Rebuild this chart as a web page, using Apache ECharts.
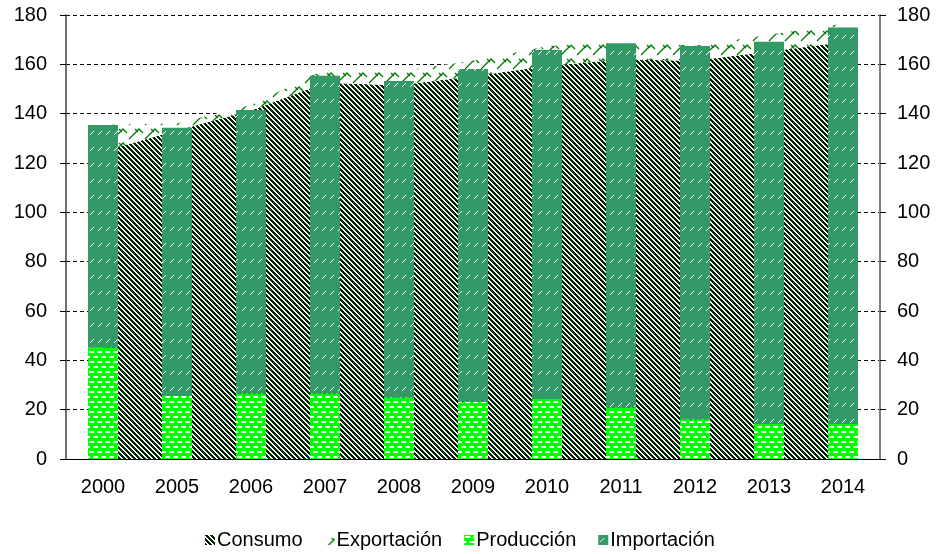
<!DOCTYPE html>
<html>
<head>
<meta charset="utf-8">
<script src="https://cdn.jsdelivr.net/npm/echarts@6/dist/echarts.min.js"></script>
<style>
html,body{margin:0;padding:0;background:#fff;}
#c{width:940px;height:554px;}
</style>
</head>
<body>
<div id="c"></div>
<script>
var categories = ['2000','2005','2006','2007','2008','2009','2010','2011','2012','2013','2014'];
var consumo     = [124.8, 133.2, 141.3, 152.5, 151.5, 155.2, 159.3, 162.0, 161.5, 165.2, 169.0];
var exportacion = [10.7, 2.8, 2.2, 5.5, 5.7, 6.3, 8.0, 7.5, 6.0, 6.8, 7.5];
var produccion  = [45.1, 25.5, 26.6, 26.6, 24.9, 23.2, 24.3, 20.8, 16.1, 14.2, 14.2];
var importacion = [90.3, 108.8, 114.9, 128.8, 128.3, 134.9, 141.5, 147.7, 151.3, 155.0, 160.7];
var yTicks = [0, 20, 40, 60, 80, 100, 120, 140, 160, 180];

function tile(w, h, draw) {
  var c = document.createElement('canvas');
  c.width = w; c.height = h;
  var ctx = c.getContext('2d');
  draw(ctx, w, h);
  return {image: c, repeat: 'repeat'};
}
// Consumo: dark wide downward diagonal stripes
var patConsumo = tile(10, 10, function (ctx, w, h) {
  ctx.fillStyle = '#ffffff'; ctx.fillRect(0, 0, w, h);
  ctx.fillStyle = '#002600';
  for (var y = 0; y < h; y++) for (var x = 0; x < w; x++) {
    var d = ((x - y) % 5 + 5) % 5;
    if (d < 3) ctx.fillRect(x, y, 1, 1);
  }
});
// Exportación: sparse green zigzag strokes
var patExport = tile(16, 14, function (ctx, w, h) {
  ctx.fillStyle = '#ffffff'; ctx.fillRect(0, 0, w, h);
  ctx.strokeStyle = '#008000'; ctx.lineWidth = 1.4;
  ctx.beginPath();
  ctx.moveTo(1, 13); ctx.lineTo(11, 3); ctx.lineTo(15, 7);
  ctx.moveTo(7, 3); ctx.lineTo(10, 6);
  ctx.stroke();
});
// Producción: bright green with white dashes (brick)
var patProd = tile(8, 10, function (ctx, w, h) {
  ctx.fillStyle = '#00ff00'; ctx.fillRect(0, 0, w, h);
  ctx.fillStyle = '#ffffff';
  ctx.fillRect(1, 1, 5, 2);
  ctx.fillRect(5, 6, 3, 2);
  ctx.fillRect(0, 6, 2, 2);
});
// Importación: sea green with short white slashes
var patImp = tile(8, 16, function (ctx, w, h) {
  ctx.fillStyle = '#339966'; ctx.fillRect(0, 0, w, h);
  ctx.fillStyle = '#ffffff';
  ctx.fillRect(2, 6, 1, 1);
  ctx.fillRect(3, 5, 1, 1);
  ctx.fillRect(4, 4, 1, 1);
  ctx.fillRect(5, 3, 1, 1);
});

var chart = echarts.init(document.getElementById('c'), null, {renderer: 'canvas'});
var font = '"Liberation Sans", Arial, sans-serif';
var option = {
  animation: false,
  backgroundColor: '#ffffff',
  textStyle: {fontFamily: font},
  grid: {left: 66, right: 60, top: 15, bottom: 95, containLabel: false},
  legend: {
    top: 525, left: 200, icon: 'rect', itemWidth: 10, itemHeight: 10, itemGap: 22,
    textStyle: {fontSize: 20, color: '#000', fontFamily: font, padding: [0, 0, 0, -3]},
    data: ['Consumo', 'Exportación', 'Producción', 'Importación']
  },
  xAxis: {
    type: 'category', data: categories, boundaryGap: true,
    axisLine: {lineStyle: {color: '#000', width: 1}},
    axisTick: {length: 6, lineStyle: {color: '#000'}},
    axisLabel: {fontSize: 20, color: '#000', margin: 18, fontFamily: font}
  },
  yAxis: [{
    type: 'value', min: 0, max: 180, interval: 20, position: 'left',
    axisLine: {show: true, lineStyle: {color: '#404040', width: 1.5}},
    axisTick: {show: true, length: 6, lineStyle: {color: '#000'}},
    axisLabel: {fontSize: 20, color: '#000', margin: 19, fontFamily: font},
    splitLine: {show: true, lineStyle: {color: '#000', type: [4, 3], width: 1}}
  }, {
    type: 'value', min: 0, max: 180, interval: 20, position: 'right',
    axisLine: {show: true, lineStyle: {color: '#808080', width: 2}},
    axisTick: {show: true, length: 6, lineStyle: {color: '#000'}},
    axisLabel: {fontSize: 20, color: '#000', margin: 17, fontFamily: font},
    splitLine: {show: false}
  }],
  series: [{
    name: 'Consumo', type: 'line', stack: 'uso', data: consumo, z: 2,
    symbol: 'none', lineStyle: {width: 0}, itemStyle: {color: patConsumo},
    areaStyle: {color: patConsumo, opacity: 1}
  }, {
    name: 'Exportación', type: 'line', stack: 'uso', data: exportacion, z: 2,
    symbol: 'none', lineStyle: {width: 0}, itemStyle: {color: patExport},
    areaStyle: {color: patExport, opacity: 1}
  }, {
    name: 'Producción', type: 'bar', stack: 'oferta', data: produccion, z: 3,
    barWidth: 30, itemStyle: {color: patProd}
  }, {
    name: 'Importación', type: 'bar', stack: 'oferta', data: importacion, z: 3,
    barWidth: 30, itemStyle: {color: patImp}
  }]
};
chart.setOption(option);
</script>
</body>
</html>
